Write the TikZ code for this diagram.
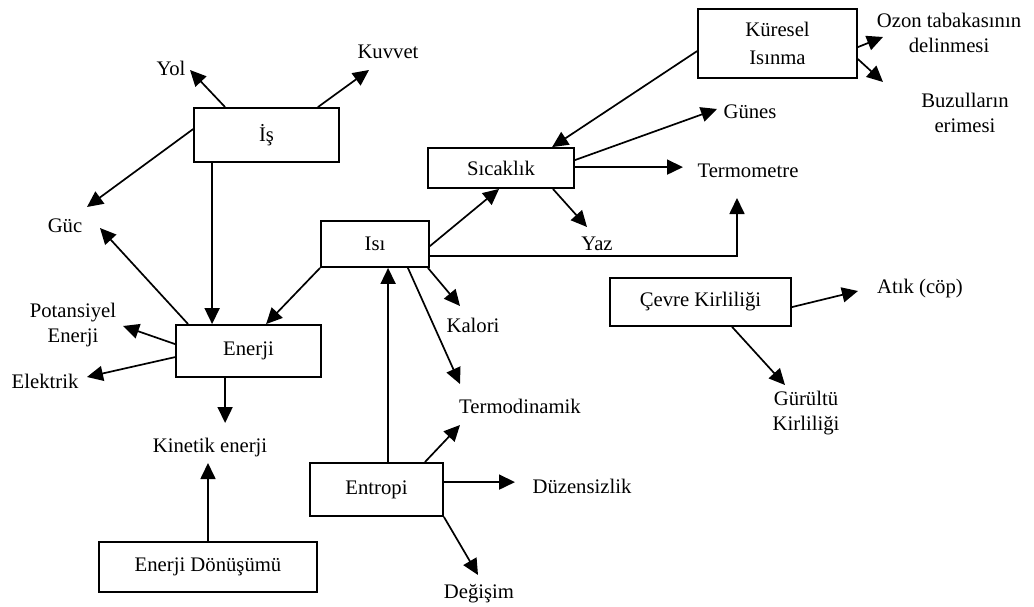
\documentclass[tikz,border=0pt]{standalone}
\usepackage{fontspec}
\setmainfont{Liberation Serif}
\usetikzlibrary{arrows.meta}

\tikzset{
  txt/.style={font=\fontsize{20.7}{24.5}\selectfont, inner sep=0pt},
  box/.style={txt, draw, line width=1.8pt, anchor=center},
  lbl/.style={txt, anchor=base},
  lbl2/.style={txt, anchor=center, align=center},
  arr/.style={line width=1.7pt, -{Triangle[length=16pt,width=15pt]}},
}

\begin{document}
\begin{tikzpicture}[x=1pt,y=-1pt]
\useasboundingbox (0,0) rectangle (1034,607);

% concept boxes
\node[box, minimum width=145pt, minimum height=54pt] (is) at (266.5,135) {İş};
\node[box, minimum width=159pt, minimum height=69pt, align=center,
      font=\fontsize{20.7}{27.5}\selectfont] (kuresel) at (777.5,43.5) {Küresel\\Isınma};
\node[box, minimum width=146pt, minimum height=40pt] (sicaklik) at (501,168) {Sıcaklık};
\node[box, minimum width=108pt, minimum height=46pt] (isi) at (375,244) {Isı};
\node[box, minimum width=145pt, minimum height=52pt] (enerji) at (248.5,351) {Enerji};
\node[box, minimum width=133pt, minimum height=53pt] (entropi) at (376.5,489.5) {Entropi};
\node[box, minimum width=218pt, minimum height=50pt] (donusum) at (208,567) {Enerji Dönüşümü};
\node[box, minimum width=181pt, minimum height=48pt] (cevre) at (700.5,302) {Çevre Kirliliği};

% free labels
\node[lbl] (yol) at (171,76) {Yol};
\node[lbl] (kuvvet) at (388,59) {Kuvvet};
\node[lbl] (guc) at (65,232) {Güc};
\node[lbl2] (potansiyel) at (73,325) {Potansiyel\\Enerji};
\node[lbl] (elektrik) at (45,388) {Elektrik};
\node[lbl] (kinetik) at (210,452) {Kinetik enerji};
\node[lbl] (kalori) at (473,332) {Kalori};
\node[lbl] (termodinamik) at (520,413) {Termodinamik};
\node[lbl] (duzensizlik) at (582,493) {Düzensizlik};
\node[lbl] (degisim) at (479,598) {Değişim};
\node[lbl] (yaz) at (597,250) {Yaz};
\node[lbl] (termometre) at (748,178) {Termometre};
\node[lbl] (gunes) at (750,119) {Günes};
\node[lbl] (atik) at (920,293) {Atık (cöp)};
\node[lbl2] (gurultu) at (806,413) {Gürültü\\Kirliliği};
\node[lbl2] (ozon) at (949,33) {Ozon tabakasının\\delinmesi};
\node[lbl2] (buzul) at (965,113) {Buzulların\\erimesi};

% reference points just off the labels, used for straight runs
\coordinate (kin-above) at ([yshift=29pt]kinetik.base);
\coordinate (kin-below) at ([yshift=-11pt]kinetik.base);
\coordinate (duz-left) at ([xshift=-67pt]duzensizlik.base);
\coordinate (term-left) at ([xshift=-65pt]termometre.base);

% İş
\draw[arr] ([xshift=32pt]is.north west) -- ([shift={(19,-6)}]yol.base);
\draw[arr] ([xshift=-22pt]is.north east) -- ([shift={(-19,11)}]kuvvet.base);
\draw[arr] ([yshift=-22pt]is.north west) -- ([shift={(22,-25)}]guc.base);
\draw[arr] ([xshift=19pt]is.south west) coordinate (is-e) -- (is-e |- enerji.north);

% Enerji
\draw[arr] ([xshift=13pt]enerji.north west) -- ([shift={(35,-4)}]guc.base);
\draw[arr] ([yshift=-20pt]enerji.north west) -- ([shift={(50,1)}]potansiyel.center);
\draw[arr] ([yshift=-33pt]enerji.north west) -- ([shift={(42,-11)}]elektrik.base);
\draw[arr] ([xshift=50pt]enerji.south west) coordinate (en-k) -- (en-k |- kin-above);

% Isı
\draw[arr] (isi.south west) -- ([xshift=91pt]enerji.north west);
\draw[arr] ([yshift=-26pt]isi.north east) -- ([xshift=72pt]sicaklik.south west);
\draw[arr] ([yshift=-36pt]isi.north east) -| ([shift={(-11,20)}]termometre.base);
\draw[arr] ([xshift=-2pt]isi.south east) -- ([shift={(-13,-26)}]kalori.base);
\draw[arr] ([xshift=-22pt]isi.south east) -- ([shift={(-60,-29)}]termodinamik.base);

% Entropi
\draw[arr] ([xshift=79pt]entropi.north west) coordinate (ent-i) -- (ent-i |- isi.south);
\draw[arr] ([xshift=-19pt]entropi.north east) -- ([shift={(-60,12)}]termodinamik.base);
\draw[arr] ([yshift=-20pt]entropi.north east) coordinate (ent-d) -- (ent-d -| duz-left);
\draw[arr] (entropi.south east) -- ([shift={(-1,-23)}]degisim.base);

% Enerji Dönüşümü
\draw[arr] (donusum.north) -- (donusum.north |- kin-below);

% Küresel Isınma
\draw[arr] ([yshift=-43pt]kuresel.north west) -- ([xshift=125pt]sicaklik.north west);
\draw[arr] ([yshift=-39pt]kuresel.north east) -- ([shift={(-66,4)}]ozon.center);
\draw[arr] ([yshift=-51pt]kuresel.north east) -- ([shift={(-82,-31)}]buzul.center);

% Sıcaklık
\draw[arr] ([yshift=-13pt]sicaklik.north east) -- ([shift={(-33,-10)}]gunes.base);
\draw[arr] ([yshift=-20pt]sicaklik.north east) coordinate (sic-t) -- (sic-t -| term-left);
\draw[arr] ([xshift=-22pt]sicaklik.south east) -- ([shift={(-10,-23)}]yaz.base);

% Çevre Kirliliği
\draw[arr] ([yshift=-30pt]cevre.north east) -- ([shift={(-62,-2)}]atik.base);
\draw[arr] ([xshift=123pt]cevre.south west) -- ([shift={(-21,-28)}]gurultu.center);
\end{tikzpicture}
\end{document}
